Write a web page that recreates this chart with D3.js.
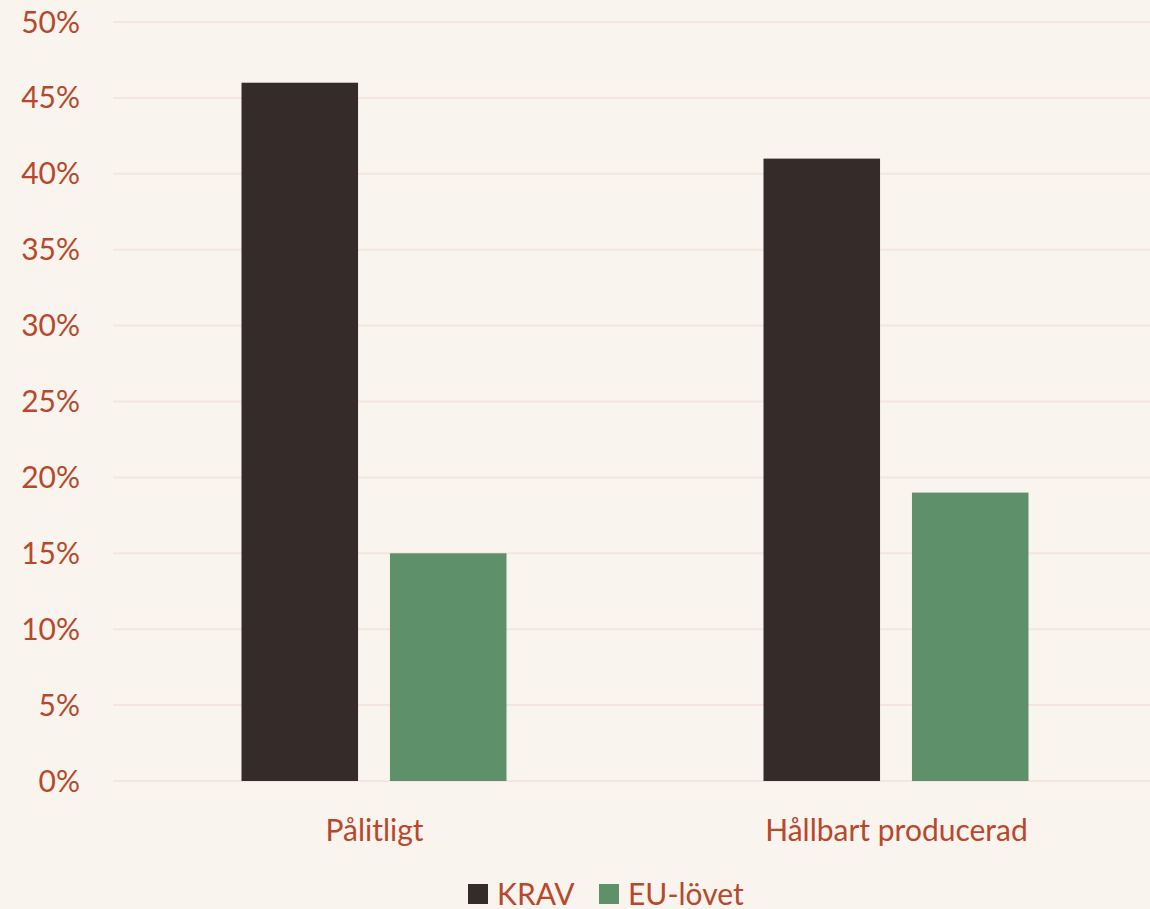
<!DOCTYPE html>
<html>
<head>
<meta charset="utf-8">
<script src="https://cdn.jsdelivr.net/npm/d3@7"></script>
<style>
  body { margin: 0; background: #f9f4ee; }
  svg { display: block; font-family: Lato, "Noto Sans", sans-serif; }
</style>
</head>
<body>
<svg id="chart" width="1150" height="909"></svg>
<script>
const categories = ['Pålitligt', 'Hållbart producerad'];
const seriesNames = ['KRAV', 'EU-lövet'];
const krav = [46, 41];
const euLovet = [15, 19];
const yTicks = [0, 5, 10, 15, 20, 25, 30, 35, 40, 45, 50];

const colors = { 'KRAV': '#352c2a', 'EU-lövet': '#5e9169' };
const textColor = '#b8482c';

const svg = d3.select('#chart');
svg.append('rect').attr('width', 1150).attr('height', 909).attr('fill', '#f9f4ee');

const y = d3.scaleLinear().domain([0, 50]).range([781, 22]);
const x0 = d3.scaleBand().domain(categories).range([113, 1157]);
const x1 = d3.scaleBand().domain(seriesNames).range([128.5, 393.5]).paddingInner(0.215);

// gridlines
svg.append('g')
  .selectAll('line')
  .data(yTicks)
  .enter().append('line')
    .attr('x1', 113).attr('x2', 1150)
    .attr('y1', d => y(d)).attr('y2', d => y(d))
    .attr('stroke', '#f6e5df')
    .attr('stroke-width', 2);

// y labels
svg.append('g')
  .selectAll('text')
  .data(yTicks)
  .enter().append('text')
    .attr('x', 80)
    .attr('y', d => y(d))
    .attr('dy', '0.35em')
    .attr('text-anchor', 'end')
    .attr('fill', textColor)
    .attr('font-size', 30)
    .text(d => d + '%');

// bars
const rows = categories.map((c, i) => ({ cat: c, vals: [{ s: 'KRAV', v: krav[i] }, { s: 'EU-lövet', v: euLovet[i] }] }));
const groups = svg.append('g')
  .selectAll('g')
  .data(rows)
  .enter().append('g')
    .attr('transform', d => 'translate(' + x0(d.cat) + ',0)');

groups.selectAll('rect')
  .data(d => d.vals)
  .enter().append('rect')
    .attr('x', d => x1(d.s))
    .attr('width', x1.bandwidth())
    .attr('y', d => y(d.v))
    .attr('height', d => y(0) - y(d.v))
    .attr('fill', d => colors[d.s]);

// category labels
svg.append('g')
  .selectAll('text')
  .data(categories)
  .enter().append('text')
    .attr('x', d => x0(d) + 261.5)
    .attr('y', 830)
    .attr('dy', '0.35em')
    .attr('text-anchor', 'middle')
    .attr('fill', textColor)
    .attr('font-size', 30)
    .text(d => d);

// legend
const legendPos = [468, 599];
const legend = svg.append('g')
  .selectAll('g')
  .data(seriesNames)
  .enter().append('g')
    .attr('transform', (d, i) => 'translate(' + legendPos[i] + ',884)');
legend.append('rect')
  .attr('width', 20).attr('height', 20)
  .attr('fill', d => colors[d]);
legend.append('text')
  .attr('x', 29).attr('y', 10)
  .attr('dy', '0.35em')
  .attr('fill', textColor)
  .attr('font-size', 30)
  .text(d => d);
</script>
</body>
</html>
